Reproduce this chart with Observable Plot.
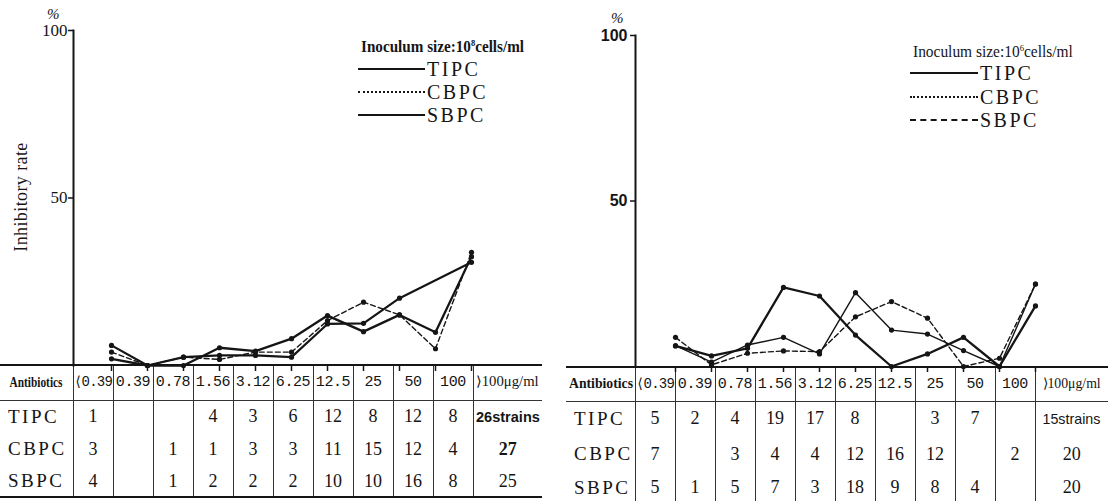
<!DOCTYPE html>
<html><head><meta charset="utf-8">
<script src="https://cdn.jsdelivr.net/npm/d3@7"></script>
<script src="https://cdn.jsdelivr.net/npm/@observablehq/plot@0.6"></script>
<style>
body{margin:0;background:#fff;width:1108px;height:501px;overflow:hidden;position:relative;font-family:"Liberation Serif",serif;color:#151515}
.panel{position:absolute;top:0;width:554px;height:501px;overflow:hidden}
.chart{position:absolute;left:0;top:0;z-index:2}
.abs{position:absolute;white-space:nowrap;line-height:1;transform:translateY(-50%)}
.fit{display:inline-block;white-space:nowrap}
.tbl{position:absolute;border-collapse:collapse;table-layout:fixed;border-top:2px solid #151515;z-index:1}
.tbl td{padding:0;text-align:center;vertical-align:middle;border-left:1px solid #333;overflow:hidden;white-space:nowrap;font-size:18px;line-height:1}
.tbl td:first-child{border-left:none}
.tbl tr.head td{border-bottom:1.5px solid #333;font-family:"Liberation Mono",monospace;font-size:15px;letter-spacing:-0.4px}
.tbl td.rowlab{font-size:19px;letter-spacing:2.5px;text-align:left;padding-left:8px}
.antib{font-family:"Liberation Serif",serif;font-weight:bold;font-size:15px;letter-spacing:0}
.unit{font-family:"Liberation Serif",serif;font-size:14px;letter-spacing:0}
.legtitle{font-size:16px}
.leglab{font-size:20px;letter-spacing:2.5px}
</style></head><body>
<div id="p1" class="panel" style="left:0"></div>
<div id="p2" class="panel" style="left:554px"></div>
<script>
// ---- data ----
const series = ["TIPC", "CBPC", "SBPC"];
const concentrations = ["<0.39", "0.39", "0.78", "1.56", "3.12", "6.25", "12.5", "25", "50", "100", ">100"];
const headerLabels = ["⟨0.39", "0.39", "0.78", "1.56", "3.12", "6.25", "12.5", "25", "50", "100", "⟩100μg/ml"];
const yTicks = [50, 100];

// Inhibitory rate (%), inoculum 10^8 cells/ml
const rate8TIPC = [2.0, 0, 0, 5.3, 4.3, 8.0, 14.9, 10.1, 15.1, 9.9, 32.5];
const rate8CBPC = [4.0, 0, 2.5, 1.8, 4.0, 4.0, 13.4, 18.9, 15.1, 5.0, 33.8];
const rate8SBPC = [6.0, 0, 2.5, 3.0, 3.0, 2.5, 12.4, 12.6, 20.1, null, 30.8];
// Inhibitory rate (%), inoculum 10^6 cells/ml
const rate6TIPC = [6.2, 3.2, 5.5, 23.9, 21.3, 9.5, 0, 3.8, 8.8, 0, 18.3];
const rate6CBPC = [8.8, 0.5, 4.0, 4.7, 4.5, 15.0, 19.6, 14.6, 0, 2.5, 24.9];
const rate6SBPC = [6.3, 1.3, 6.5, 8.8, 3.8, 22.3, 11.0, 9.8, 4.8, 0, 24.9];

// Strain counts in the tables
const count8TIPC = ["1", "", "", "4", "3", "6", "12", "8", "12", "8", "26strains"];
const count8CBPC = ["3", "", "1", "1", "3", "3", "11", "15", "12", "4", "27"];
const count8SBPC = ["4", "", "1", "2", "2", "2", "10", "10", "16", "8", "25"];
const count6TIPC = ["5", "2", "4", "19", "17", "8", "", "3", "7", "", "15strains"];
const count6CBPC = ["7", "", "3", "4", "4", "12", "16", "12", "", "2", "20"];
const count6SBPC = ["5", "1", "5", "7", "3", "18", "9", "8", "4", "", "20"];

// ---- drawing ----
const INK = "#151515";

function buildChart(el, rates, cfg) {
  const rows = [];
  series.forEach((s, si) => rates[si].forEach((v, i) => {
    if (v !== null) rows.push({series: s, conc: concentrations[i], rate: v});
  }));
  const of = s => rows.filter(d => d.series === s);
  const svg = Plot.plot({
    width: 554, height: cfg.height,
    marginLeft: cfg.marginLeft, marginRight: 0, marginTop: cfg.marginTop, marginBottom: cfg.marginBottom,
    x: {type: "point", domain: concentrations, range: cfg.xRange},
    y: {domain: [0, 100]},
    style: {background: "transparent", color: INK, fontFamily: "'Liberation Serif', serif", overflow: "visible"},
    marks: [
      Plot.frame({anchor: "left", stroke: INK, strokeWidth: 2}),
      Plot.axisY({ticks: yTicks, tickSize: 5, tickPadding: cfg.tickPadding, label: null,
        fontSize: cfg.tickFont, fontWeight: cfg.tickWeight, fontFamily: cfg.tickFamily, strokeWidth: 1.5}),
      Plot.axisX({tickSize: 6, tickFormat: () => "", label: null, strokeWidth: 1.5}),
      Plot.line(of("CBPC"), {x: "conc", y: "rate", stroke: INK, strokeWidth: 1.4, strokeDasharray: "5,3"}),
      Plot.line(of("SBPC"), {x: "conc", y: "rate", stroke: INK, strokeWidth: cfg.sbpcWidth}),
      Plot.line(of("TIPC"), {x: "conc", y: "rate", stroke: INK, strokeWidth: 2.3}),
      Plot.dot(rows, {x: "conc", y: "rate", r: 2.6, fill: INK, stroke: "none"})
    ]
  });
  svg.classList.add("chart");
  el.appendChild(svg);
}

function buildTable(el, counts, cfg) {
  const t = document.createElement("table");
  t.className = "tbl";
  t.style.left = cfg.left + "px";
  t.style.top = cfg.top + "px";
  t.style.width = cfg.colWidths.reduce((a, b) => a + b, 0) + "px";
  if (cfg.bottom) t.style.borderBottom = "2px solid " + INK;
  const cg = document.createElement("colgroup");
  cfg.colWidths.forEach(w => { const c = document.createElement("col"); c.style.width = w + "px"; cg.appendChild(c); });
  t.appendChild(cg);
  const hr = t.insertRow();
  hr.className = "head";
  hr.style.height = cfg.rowHeights[0] + "px";
  hr.insertCell().innerHTML = `<span class="fit antib" data-w="${cfg.antibW}">Antibiotics</span>`;
  headerLabels.forEach((h, i) => {
    const c = hr.insertCell();
    if (i === headerLabels.length - 1) c.innerHTML = `<span class="fit unit" data-w="${cfg.unitW}">${h}</span>`;
    else if (i === 0) c.innerHTML = `<span class="fit" style="font-size:14px;letter-spacing:-0.8px">${h}</span>`;
    else c.textContent = h;
  });
  series.forEach((s, si) => {
    const r = t.insertRow();
    r.style.height = cfg.rowHeights[si + 1] + "px";
    const lc = r.insertCell(); lc.className = "rowlab"; lc.textContent = s;
    counts[si].forEach((v, i) => {
      const c = r.insertCell();
      if (v.includes("strains")) c.innerHTML = `<span class="fit" style="font-weight:${cfg.strainsWeight};font-family:'Liberation Sans',sans-serif;font-size:15px" data-w="${cfg.strainsW}">${v}</span>`;
      else c.textContent = v;
      if (cfg.boldLast && i === counts[si].length - 1 && si === 1) c.style.fontWeight = "bold";
    });
  });
  el.appendChild(t);
}

function buildLegend(el, cfg) {
  const title = document.createElement("div");
  title.className = "abs";
  title.style.left = cfg.titleX + "px";
  title.style.top = cfg.titleY + "px";
  title.innerHTML = `<span class="fit legtitle" style="transform-origin:left center;font-weight:${cfg.titleWeight}" data-w="${cfg.titleW}">Inoculum size:10<sup style="font-size:9px">${cfg.exp}</sup>cells/ml</span>`;
  el.appendChild(title);
  series.forEach((s, i) => {
    const ln = document.createElement("div");
    ln.style.position = "absolute";
    ln.style.left = cfg.lineX1 + "px";
    ln.style.width = (cfg.lineX2 - cfg.lineX1) + "px";
    ln.style.top = (cfg.ys[i] - 1) + "px";
    ln.style.borderTop = cfg.styles[i];
    el.appendChild(ln);
    const lab = document.createElement("div");
    lab.className = "abs leglab";
    lab.style.left = cfg.textX + "px";
    lab.style.top = cfg.ys[i] + "px";
    lab.textContent = s;
    el.appendChild(lab);
  });
}

function addText(el, txt, x, y, css) {
  const d = document.createElement("div");
  d.className = "abs";
  d.style.left = x + "px";
  d.style.top = y + "px";
  d.style.cssText += css;
  d.textContent = txt;
  el.appendChild(d);
  return d;
}

const p1 = document.getElementById("p1");
const p2 = document.getElementById("p2");

// Left panel: 10^8 cells/ml
buildTable(p1, [count8TIPC, count8CBPC, count8SBPC], {
  left: 0, top: 364, colWidths: [73, 40, 40, 40, 40, 40, 40, 40, 40, 40, 40, 69],
  rowHeights: [35, 32, 33, 32], bottom: true, antibW: 53, unitW: 62, strainsW: 64, strainsWeight: "bold", boldLast: true
});
buildChart(p1, [rate8TIPC, rate8CBPC, rate8SBPC], {
  height: 375, marginTop: 30, marginBottom: 10, marginLeft: 73, xRange: [93, 489],
  tickPadding: 1, tickFont: 17, tickWeight: "normal", tickFamily: "'Liberation Serif', serif", sbpcWidth: 2.2
});
buildLegend(p1, {
  titleX: 361, titleY: 47, titleW: 163, exp: "8", titleWeight: "bold",
  lineX1: 358, lineX2: 425, textX: 427, ys: [69, 92, 115],
  styles: ["2px solid " + INK, "2px dotted " + INK, "2.5px solid " + INK]
});
addText(p1, "%", 47, 14, "font-size:15px;font-style:italic");
addText(p1, "Inhibitory rate", 21, 197, "font-size:18px;letter-spacing:0.4px;transform:translate(-50%,-50%) rotate(-90deg)");

// Right panel: 10^6 cells/ml
buildTable(p2, [count6TIPC, count6CBPC, count6SBPC], {
  left: 12, top: 366, colWidths: [69, 40, 40, 40, 40, 40, 40, 40, 40, 40, 40, 73],
  rowHeights: [34, 34, 37, 30], bottom: false, antibW: 64, unitW: 58, strainsW: 58, strainsWeight: "normal", boldLast: false
});
buildChart(p2, [rate6TIPC, rate6CBPC, rate6SBPC], {
  height: 376, marginTop: 35, marginBottom: 10, marginLeft: 81, xRange: [101, 501],
  tickPadding: 3, tickFont: 16, tickWeight: "bold", tickFamily: "'Liberation Sans', sans-serif", sbpcWidth: 1.4
});
buildLegend(p2, {
  titleX: 359, titleY: 52, titleW: 160, exp: "6", titleWeight: "normal",
  lineX1: 356, lineX2: 424, textX: 426, ys: [73, 97, 120],
  styles: ["2px solid " + INK, "2px dotted " + INK, "2px dashed " + INK]
});
addText(p2, "%", 57, 18, "font-size:15px;font-style:italic");

// fit condensed texts to their widths
document.querySelectorAll(".fit").forEach(s => {
  const w = +s.dataset.w;
  if (w && s.offsetWidth) {
    s.style.transform = `scaleX(${w / s.offsetWidth})`;
    if (!s.style.transformOrigin) s.style.transformOrigin = "center center";
  }
});
</script>
</body></html>
